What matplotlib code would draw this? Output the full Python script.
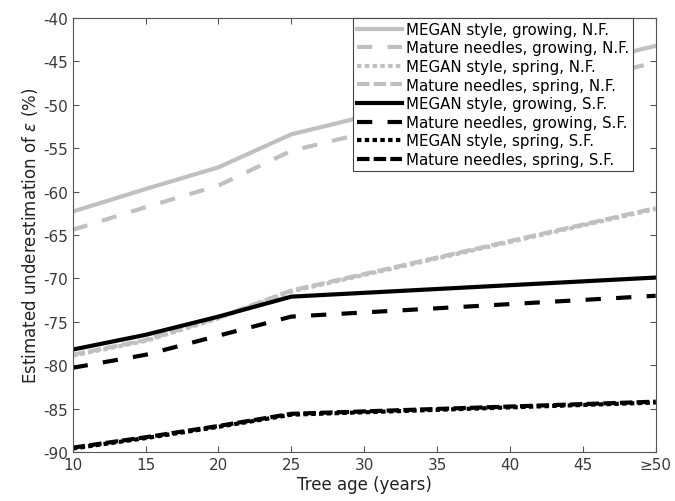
import matplotlib
matplotlib.use("Agg")
import matplotlib.pyplot as plt

ages = [10, 15, 20, 25, 50]
xtick_labels = ["10", "15", "20", "25", "30", "35", "40", "45", "\u226550"]

megan_grow_nf = [-62.3, -59.7, -57.2, -53.4, -43.2]
mature_grow_nf = [-64.4, -61.8, -59.3, -55.3, -45.1]
megan_spring_nf = [-78.9, -77.2, -74.6, -71.5, -62.0]
mature_spring_nf = [-78.8, -77.1, -74.5, -71.4, -61.9]
megan_grow_sf = [-78.2, -76.5, -74.4, -72.1, -69.9]
mature_grow_sf = [-80.3, -78.8, -76.6, -74.4, -72.0]
megan_spring_sf = [-89.6, -88.4, -87.1, -85.7, -84.3]
mature_spring_sf = [-89.5, -88.3, -87.0, -85.6, -84.2]

labels = ["MEGAN style, growing, N.F.", "Mature needles, growing, N.F.",
          "MEGAN style, spring, N.F.", "Mature needles, spring, N.F.",
          "MEGAN style, growing, S.F.", "Mature needles, growing, S.F.",
          "MEGAN style, spring, S.F.", "Mature needles, spring, S.F."]

plt.rcParams["lines.scale_dashes"] = False
plt.rcParams["axes.unicode_minus"] = False
gray = "#c0c0c0"
lw = 3.0
long_dash = (0, (11, 11))
short_dash = (0, (9, 3))
dot = (0, (3.2, 2.4))

fig = plt.figure(figsize=(6.75, 5.02), dpi=100)
ax = fig.add_axes([0.1077, 0.0976, 0.8637, 0.8645])

series = [
    (megan_grow_nf, gray, "-"),
    (mature_grow_nf, gray, long_dash),
    (megan_spring_nf, gray, dot),
    (mature_spring_nf, gray, short_dash),
    (megan_grow_sf, "black", "-"),
    (mature_grow_sf, "black", long_dash),
    (megan_spring_sf, "black", dot),
    (mature_spring_sf, "black", short_dash),
]
for (vals, c, ls), lab in zip(series, labels):
    ax.plot(ages, vals, color=c, linestyle=ls, lw=lw, label=lab)

ax.set_xlim(10, 50)
ax.set_ylim(-90, -40)
ax.set_xticks(range(10, 51, 5))
ax.set_xticklabels(xtick_labels)
ax.set_yticks(range(-90, -39, 5))
ax.tick_params(direction="in", top=True, right=True, length=4,
               labelsize=11, labelcolor="#3a3a3a", color="#555555")
for s in ax.spines.values():
    s.set_color("#555555")

ax.set_xlabel("Tree age (years)", fontsize=12, color="#222222", labelpad=2)
ax.set_ylabel(r"Estimated underestimation of $\epsilon$ (%)", fontsize=12,
              color="#222222", labelpad=2)

leg = ax.legend(loc="upper right", bbox_to_anchor=(0.961, 1.0), borderaxespad=0,
                fontsize=10.8, handlelength=3.0, handletextpad=0.3,
                labelspacing=0.24, fancybox=False, framealpha=1,
                borderpad=0.25)
leg.get_frame().set_edgecolor("#444444")
leg.get_frame().set_linewidth(0.8)

fig.savefig("out.png", dpi=100)
